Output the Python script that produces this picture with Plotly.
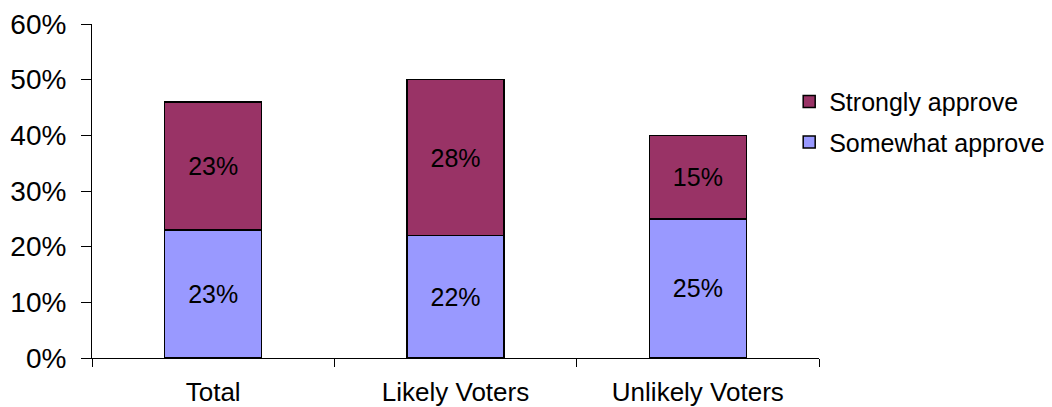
import plotly.graph_objects as go

categories = ["Total", "Likely Voters", "Unlikely Voters"]
somewhat = [23, 22, 25]
strongly = [23, 28, 15]
tick_vals = [0, 10, 20, 30, 40, 50, 60]
tick_text = ["0%", "10%", "20%", "30%", "40%", "50%", "60%"]

FONT = "Liberation Sans, Arial, sans-serif"

fig = go.Figure()
fig.add_trace(go.Bar(
    name="Somewhat approve", x=categories, y=somewhat, legendgroup="a", legendrank=2,
    marker=dict(color="#9999FF", line=dict(color="#000000", width=1.5)),
    text=[f"{v}%" for v in somewhat], textposition="inside", insidetextanchor="middle",
    textfont=dict(color="black", size=25, family=FONT),
))
fig.add_trace(go.Bar(
    name="Strongly approve", x=categories, y=strongly, legendgroup="b", legendrank=1,
    marker=dict(color="#993366", line=dict(color="#000000", width=1.5)),
    text=[f"{v}%" for v in strongly], textposition="inside", insidetextanchor="middle",
    textfont=dict(color="black", size=25, family=FONT),
))

fig.update_layout(
    barmode="stack",
    bargap=0.6,
    width=1044, height=399,
    margin=dict(l=84, r=233, t=16, b=49, autoexpand=False),
    paper_bgcolor="white", plot_bgcolor="white",
    font=dict(family=FONT, size=25, color="black"),
    uniformtext=dict(mode="show", minsize=25),
    showlegend=True,
    legend=dict(
        x=0.959, xanchor="left", y=0.707, yanchor="middle",
        traceorder="grouped", font=dict(size=25),
        tracegroupgap=5,
        bgcolor="rgba(0,0,0,0)",
    ),
    xaxis=dict(
        showline=True, linecolor="black", linewidth=1,
        ticks="outside", tickson="boundaries", ticklen=8, tickcolor="black",
        tickfont=dict(size=26), showgrid=False, automargin=False,
        ticklabelstandoff=11,
    ),
    yaxis=dict(
        range=[0, 60], tickvals=tick_vals, ticktext=tick_text,
        showline=True, linecolor="black", linewidth=1,
        ticks="outside", ticklen=10, tickcolor="black",
        tickfont=dict(size=28), showgrid=False, zeroline=False, automargin=False,
        ticklabelstandoff=9,
    ),
)

fig.write_html("out.html")
